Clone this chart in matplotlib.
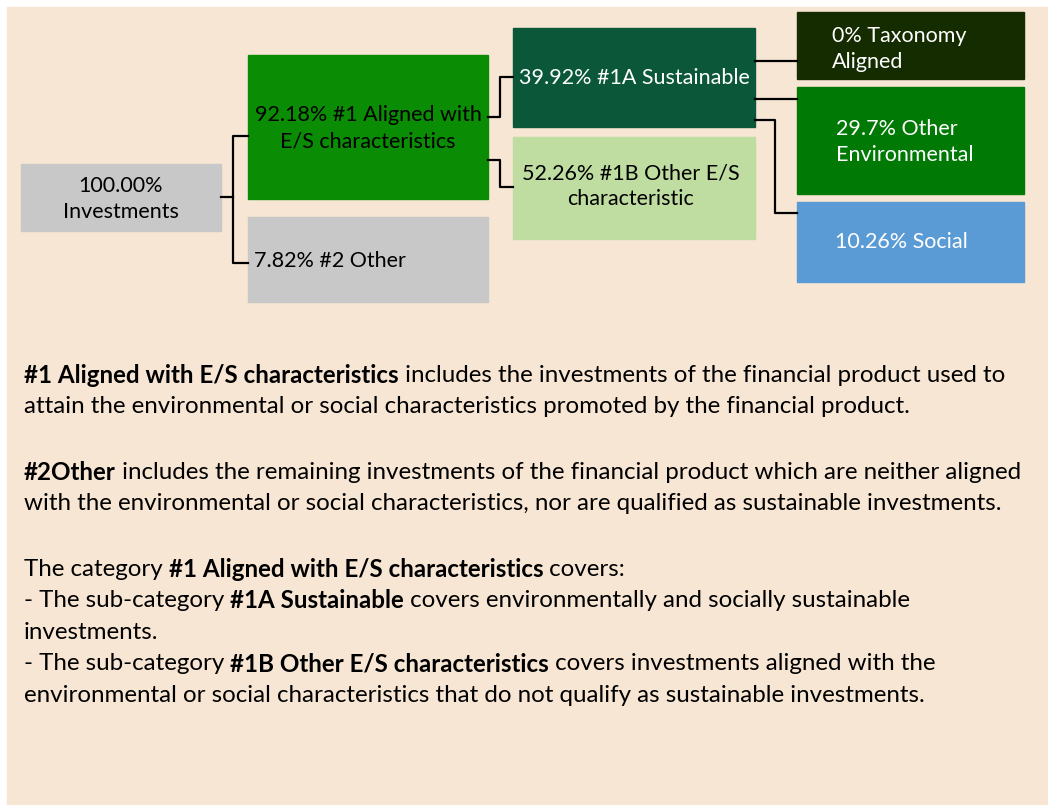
import matplotlib.pyplot as plt
from matplotlib.patches import Rectangle

plt.rcParams['font.family'] = ['Lato', 'DejaVu Sans']

# data
shares = ["100.00%", "92.18%", "7.82%", "39.92%", "52.26%", "0%", "29.7%", "10.26%"]
names = ["Investments", "#1 Aligned with E/S characteristics", "#2 Other",
         "#1A Sustainable", "#1B Other E/S characteristic", "Taxonomy Aligned",
         "Other Environmental", "Social"]

notes = [
    [("#1 Aligned with E/S characteristics", True),
     (" includes the investments of the financial product used to", False)],
    [("attain the environmental or social characteristics promoted by the financial product.", False)],
    None,
    [("#2Other", True),
     (" includes the remaining investments of the financial product which are neither aligned", False)],
    [("with the environmental or social characteristics, nor are qualified as sustainable investments.", False)],
    None,
    [("The category ", False), ("#1 Aligned with E/S characteristics", True), (" covers:", False)],
    [("- The sub-category ", False), ("#1A Sustainable", True),
     (" covers environmentally and socially sustainable", False)],
    [("investments.", False)],
    [("- The sub-category ", False), ("#1B Other E/S characteristics", True),
     (" covers investments aligned with the", False)],
    [("environmental or social characteristics that do not qualify as sustainable investments.", False)],
]

# layout (pixel coords): x0, y0, x1, y1, colour, text colour, text lines, align, text x, text y of first line
boxes = [
    (21, 164, 221, 231, "#C8C8C8", "black", [shares[0], names[0]], "center", 121, 186),
    (248, 55, 488, 199, "#0A8C04", "black", [shares[1] + " #1 Aligned with", "E/S characteristics"], "center", 368, 115),
    (248, 217, 488, 302, "#C8C8C8", "black", [shares[2] + " " + names[2]], "left", 254, 261),
    (513, 28, 755, 127, "#0B573A", "white", [shares[3] + " " + names[3]], "left", 519, 78),
    (513, 137, 755, 239, "#BFDDA0", "black", [shares[4] + " #1B Other E/S", "characteristic"], "center", 631, 173),
    (797, 12, 1024, 79, "#142C00", "white", [shares[5] + " Taxonomy", "Aligned"], "left", 832, 36),
    (797, 87, 1024, 194, "#007A05", "white", [shares[6] + " Other", "Environmental"], "left", 836, 129),
    (797, 202, 1024, 282, "#5B9BD5", "white", [shares[7] + " " + names[7]], "left", 835, 242),
]

W, H = 1048, 805
fig = plt.figure(figsize=(W / 100, H / 100), dpi=100)
ax = fig.add_axes([0, 0, 1, 1])
ax.set_xlim(0, W)
ax.set_ylim(H, 0)
ax.axis('off')

ax.add_patch(Rectangle((7, 7), W - 7, H - 7, color="#F8E6D4", zorder=0))

for x0, y0, x1, y1, col, tcol, lines, align, tx, ty in boxes:
    ax.add_patch(Rectangle((x0, y0), x1 - x0, y1 - y0, color=col, zorder=1))
    for i, line in enumerate(lines):
        ax.text(tx, ty + i * 26, line, color=tcol, fontsize=15.5, ha=align, va='center', zorder=3)

# connectors
lk = dict(color="black", lw=1.6, zorder=2)
ax.plot([221, 233], [197, 197], **lk)
ax.plot([248, 233, 233, 248], [136, 136, 263, 263], **lk)
ax.plot([488, 500, 500, 513], [117, 117, 77, 77], **lk)
ax.plot([488, 500, 500, 513], [160, 160, 187, 187], **lk)
ax.plot([755, 797], [61, 61], **lk)
ax.plot([755, 797], [99, 99], **lk)
ax.plot([755, 775, 775, 797], [120, 120, 213, 213], **lk)

# notes text
renderer = fig.canvas.get_renderer()
y = 375
for line in notes:
    if line is None:
        y += 34
        continue
    x = 24
    for seg, bold in line:
        t = ax.text(x, y, seg, fontsize=17.4, fontweight='bold' if bold else 'normal',
                    va='center', ha='left', color="black")
        x += t.get_window_extent(renderer).width
    y += 31.5

fig.savefig("out.png", dpi=100)
